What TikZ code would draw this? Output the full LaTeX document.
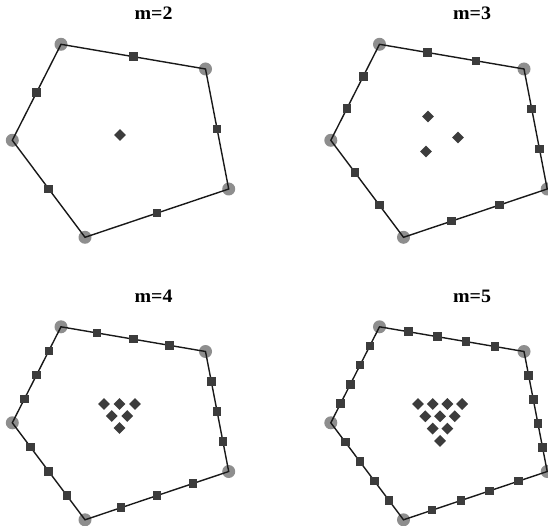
\documentclass[tikz,border=0pt]{standalone}
\usepackage{fontspec}
\setmainfont{Liberation Serif}
\usetikzlibrary{calc,shapes.geometric}
\definecolor{vgray}{HTML}{8E8E8E}
\definecolor{mdark}{HTML}{3C3C3C}
\tikzset{
  vert/.style={circle,fill=vgray,minimum size=13pt,inner sep=0pt},
  edgept/.style={rectangle,fill=mdark,minimum size=8.5pt,inner sep=0pt},
  intpt/.style={diamond,fill=mdark,minimum size=12pt,inner sep=0pt},
  poly/.style={line width=1.4pt,black!90,line join=miter},
  ttl/.style={font=\bfseries\fontsize{19}{19}\selectfont,anchor=base}
}
\newcommand\pentagonpanel[1]{%
  \node[ttl] (t#1) at (153.5,19.5) {\scalebox{1.05}[1]{m=#1}};
  \node[vert] (p#1a) at (61,44.3) {};
  \node[vert] (p#1b) at (205.5,69) {};
  \node[vert] (p#1c) at (228.7,189) {};
  \node[vert] (p#1d) at (85,237.3) {};
  \node[vert] (p#1e) at (12.3,140.3) {};
  \draw[poly] (p#1a.center) -- (p#1b.center) -- (p#1c.center) -- (p#1d.center) -- (p#1e.center) -- cycle;
  \pgfmathtruncatemacro\nedge{#1-1}%
  \foreach \u/\v in {a/b,b/c,c/d,d/e,e/a} {
    \foreach \k in {1,...,\nedge} {
      \node[edgept] at ($(p#1\u.center)!{\k/#1}!(p#1\v.center)$) {};
    }
  }
}
\begin{document}
\begin{tikzpicture}[x=1pt,y=-1pt]
\useasboundingbox (0,0) rectangle (548,526);
% m=2
\begin{scope}
  \pentagonpanel{2}
  \node[intpt] (q2a) at (120,135) {};
\end{scope}
% m=3
\begin{scope}[shift={(318.5,0)}]
  \pentagonpanel{3}
  \node[intpt] (q3a) at (109.5,116.5) {};
  \node[intpt] (q3b) at (139.5,137.5) {};
  \node[intpt] (q3c) at (107.5,151.5) {};
\end{scope}
% m=4
\begin{scope}[shift={(0,282.5)}]
  \pentagonpanel{4}
  \foreach \r in {0,1,2} {
    \pgfmathtruncatemacro\nn{2-\r}
    \foreach \k in {0,...,\nn} {
      \node[intpt] (q4-\r-\k) at ({104+15.5*\k+7.75*\r},{121.5+12*\r}) {};
    }
  }
\end{scope}
% m=5
\begin{scope}[shift={(318.5,282.5)}]
  \pentagonpanel{5}
  \foreach \r in {0,1,2,3} {
    \pgfmathtruncatemacro\nn{3-\r}
    \foreach \k in {0,...,\nn} {
      \node[intpt] (q5-\r-\k) at ({99.5+14.7*\k+7.35*\r},{121.5+12.3*\r}) {};
    }
  }
\end{scope}
\end{tikzpicture}
\end{document}
